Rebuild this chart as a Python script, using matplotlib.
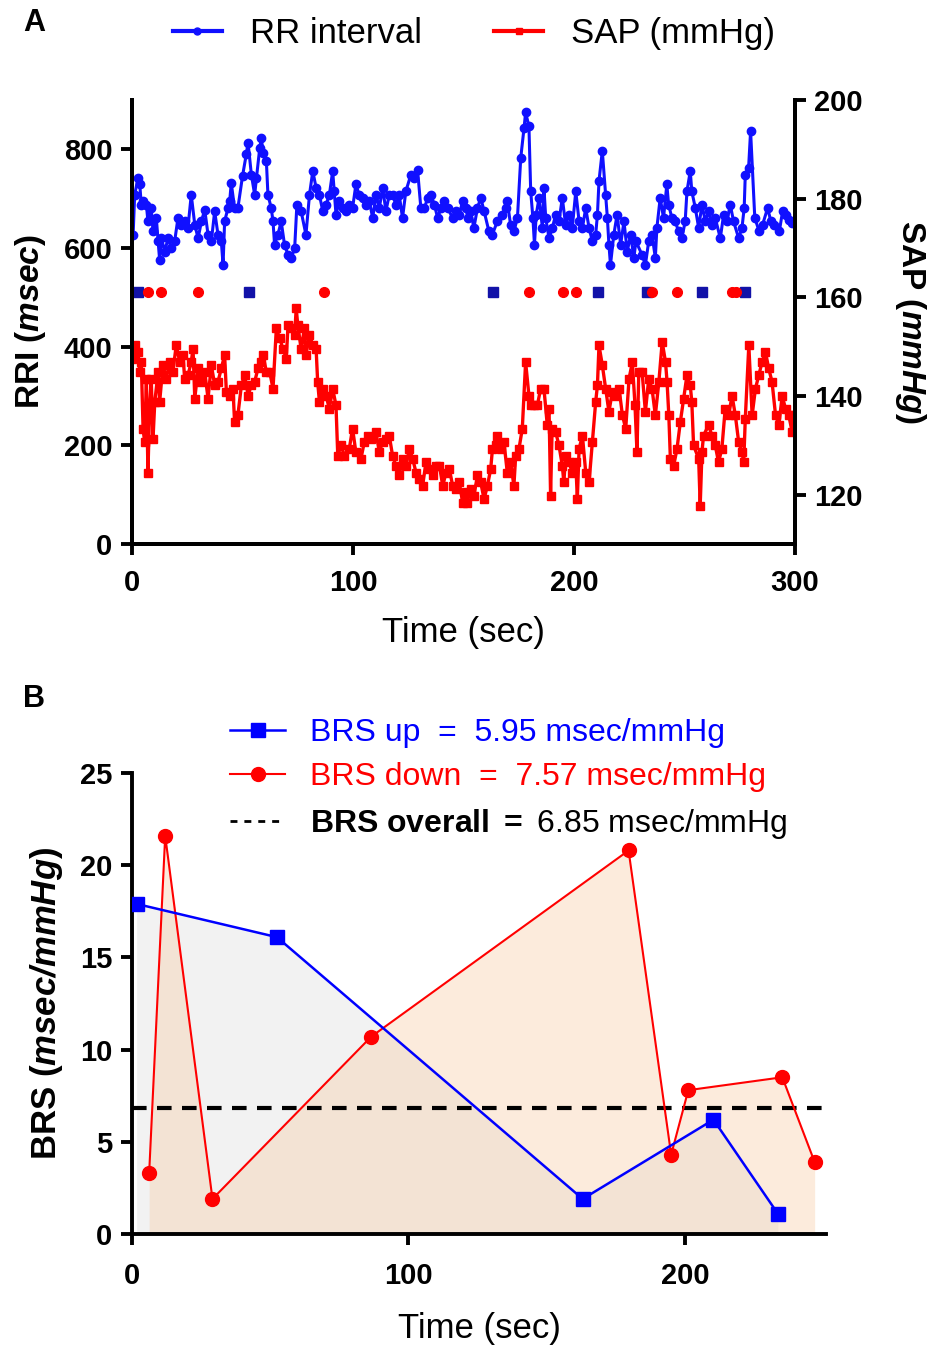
import matplotlib
matplotlib.use('Agg')
import matplotlib.pyplot as plt
from matplotlib.lines import Line2D

plt.rcParams['font.family'] = ['Liberation Sans', 'DejaVu Sans']
plt.rcParams['mathtext.fontset'] = 'custom'
plt.rcParams['mathtext.rm'] = 'Liberation Sans'
plt.rcParams['mathtext.it'] = 'Liberation Sans:italic'
plt.rcParams['mathtext.bf'] = 'Liberation Sans:bold'
plt.rcParams['mathtext.bfit'] = 'Liberation Sans:italic:bold'

# ---- panel A data: beat series (time in sec) ----
rri_t = [0.5, 1.2, 2.7, 3.5, 4.2, 5.0, 6.5, 7.2, 8.7, 9.5, 11.0, 11.8, 12.5, 13.3, 14.8, 16.3,
         17.8, 19.3, 20.8, 22.3, 23.8, 25.3, 26.8, 28.4, 29.9, 31.4, 32.9, 34.4, 35.9, 37.4,
         38.9, 40.4, 41.2, 41.9, 43.4, 44.2, 44.9, 46.4, 47.9, 50.0, 51.7, 52.5, 54.0, 55.5,
         56.3, 57.8, 58.5, 59.3, 60.8, 61.5, 63.0, 63.8, 64.5, 66.0, 67.5, 69.0, 70.6, 72.1,
         73.6, 74.6, 76.5, 78.7, 80.3, 81.8, 83.3, 84.8, 86.3, 87.8, 89.3, 90.8, 91.5, 92.3,
         93.8, 95.3, 96.8, 98.3, 99.8, 101.3, 102.8, 104.3, 105.9, 107.4, 108.9, 110.4, 111.9,
         113.4, 114.9, 116.4, 117.9, 119.4, 120.9, 122.4, 123.9, 126.2, 127.7, 129.2, 130.7,
         132.3, 133.8, 135.3, 136.8, 138.3, 139.8, 141.3, 142.8, 145.1, 146.6, 148.1, 149.6,
         151.0, 152.0, 153.2, 154.7, 156.3, 157.8, 159.3, 161.5, 163.0, 165.3, 167.5, 169.0,
         169.8, 171.3, 172.8, 174.4, 175.9, 177.4, 178.1, 179.6, 180.4, 181.4, 182.1, 182.9,
         184.2, 185.7, 186.4, 187.2, 188.7, 190.2, 191.7, 193.2, 194.7, 196.2, 197.7, 199.2,
         200.8, 202.3, 203.8, 205.3, 206.8, 208.3, 209.8, 210.6, 211.3, 212.8, 214.3, 215.1,
         215.8, 216.5, 218.0, 219.5, 221.1, 222.6, 224.1, 225.6, 227.1, 228.0, 230.8, 232.3,
         233.8, 235.3, 236.8, 237.5, 239.0, 240.5, 242.0, 242.8, 244.3, 245.8, 247.3, 248.8,
         250.3, 251.1, 252.6, 253.3, 254.9, 256.4, 257.9, 259.4, 260.9, 262.4, 263.9, 266.2,
         267.7, 269.2, 270.7, 272.2, 274.5, 276.0, 277.0, 277.5, 279.0, 279.9, 281.8, 283.8,
         285.3, 287.6, 289.1, 290.6, 292.9, 294.4, 295.9, 297.4, 298.8]
rri_v = [627, 708, 742, 729, 688, 695, 688, 654, 681, 634, 661, 614, 576, 620, 593, 620,
         600, 614, 661, 647, 654, 641, 708, 647, 620, 654, 678, 627, 614, 675,
         627, 614, 566, 654, 681, 695, 732, 681, 681, 746, 790, 814, 749, 708,
         742, 803, 824, 793, 776, 708, 681, 654, 607, 627, 654, 607, 586, 580,
         600, 688, 675, 627, 708, 756, 722, 708, 675, 688, 708, 756, 715, 668,
         695, 681, 675, 688, 681, 729, 708, 702, 688, 695, 661, 708, 681,
         722, 675, 708, 708, 688, 708, 661, 715, 749, 742, 759, 681,
         681, 702, 708, 688, 661, 681, 695, 681, 661, 675, 668, 695,
         681, 661, 675, 641, 681, 702, 675, 634, 627, 654, 668, 681,
         695, 647, 634, 661, 783, 844, 875, 847, 715, 661, 607, 668,
         702, 641, 722, 661, 620, 641, 668, 654, 702, 647, 668, 641,
         715, 654, 641, 681, 641, 614, 627, 668, 736, 797, 708, 661,
         607, 566, 627, 668, 607, 654, 593, 627, 580, 614, 586, 566,
         614, 627, 580, 641, 702, 661, 729, 688, 661, 654, 634, 620,
         654, 715, 756, 715, 681, 641, 688, 654, 675, 647, 661, 620,
         668, 654, 688, 654, 620, 641, 681, 749, 763, 837, 661, 634,
         647, 681, 654, 647, 634, 675, 668, 657, 651]

sap_t = [0.0, 1.5, 2.7, 3.5, 4.2, 5.0, 5.7, 6.5, 7.2, 8.0, 8.7, 9.5, 10.3, 11.8, 12.5, 14.0,
         15.5, 17.0, 18.5, 20.0, 21.6, 23.1, 23.8, 25.3, 26.8, 27.6, 28.4, 29.9, 31.4, 32.9,
         34.4, 35.9, 37.4, 38.9, 40.4, 41.9, 42.7, 44.2, 45.7, 46.4, 47.9, 49.5, 51.0, 52.5,
         54.0, 55.5, 57.0, 58.5, 59.3, 60.8, 62.3, 63.8, 65.3, 66.8, 68.3, 69.8, 70.6, 72.1,
         73.6, 74.3, 75.0, 76.5, 78.0, 78.7, 80.3, 81.8, 83.3, 84.0, 84.8, 86.3, 87.8, 89.3,
         90.8, 92.3, 93.1, 94.6, 96.1, 98.3, 99.8, 101.3, 103.6, 105.1, 106.6, 108.1, 110.4,
         111.9, 113.4, 114.9, 116.4, 117.9, 119.4, 120.9, 122.4, 124.0, 125.5, 127.0, 128.5,
         130.0, 131.5, 133.0, 134.5, 136.0, 137.6, 139.1, 140.6, 142.1, 143.6, 145.1, 146.6,
         148.1, 149.6, 151.1, 151.7, 153.2, 154.7, 156.3, 157.8, 159.3, 160.8, 162.3, 163.1,
         164.6, 165.3, 166.8, 168.3, 169.8, 171.3, 172.8, 173.6, 175.1, 176.6, 178.1, 179.6,
         180.4, 181.9, 183.4, 184.9, 186.4, 187.9, 188.7, 189.4, 190.1, 191.7, 193.2, 194.7,
         195.4, 196.2, 197.7, 199.2, 200.8, 201.5, 202.3, 203.8, 205.3, 206.8, 208.3, 209.8,
         210.6, 211.3, 212.8, 214.3, 215.8, 217.3, 218.8, 220.4, 221.9, 223.4, 224.9, 226.4,
         227.6, 228.5, 229.3, 230.8, 232.3, 233.8, 235.3, 236.8, 238.4, 239.9, 241.4, 242.1,
         242.9, 243.6, 245.1, 246.6, 248.1, 249.6, 251.1, 252.6, 253.3, 254.1, 256.4, 257.1,
         257.9, 258.6, 260.9, 262.4, 263.9, 265.4, 266.9, 268.4, 270.0, 271.5, 273.0, 274.5,
         276.0, 276.8, 277.5, 279.1, 280.6, 282.1, 283.6, 285.1, 286.6, 288.1, 289.6, 291.2,
         292.7, 294.2, 295.7, 297.2, 298.7, 299.4, 300.0]
sap_v = [147.6, 150.3, 149.0, 144.9, 146.9, 133.4, 130.7, 143.5, 124.5, 138.1, 143.5, 131.3, 138.8, 144.9, 138.8, 146.3,
         143.5, 146.9, 144.9, 150.3, 146.9, 148.3, 143.5, 144.2, 146.9, 149.6, 139.5, 145.6, 142.9, 144.9,
         139.5, 146.3, 142.2, 142.9, 145.6, 148.3, 140.8, 140.1, 141.5, 134.7, 136.1, 142.2, 144.2, 140.1,
         142.2, 142.9, 145.6, 146.9, 148.3, 144.9, 144.9, 141.5, 153.7, 151.7, 149.6, 147.6, 154.4, 153.7,
         152.4, 157.8, 154.4, 149.6, 153.7, 148.3, 152.4, 150.3, 149.6, 142.9, 138.8, 141.5, 140.1, 137.4,
         141.5, 138.1, 127.9, 130.0, 127.9, 129.3, 133.4, 128.6, 127.3, 130.7, 132.0, 131.3, 132.7,
         128.6, 130.7, 131.3, 132.0, 127.9, 125.9, 123.9, 127.3, 125.9, 129.3, 127.3, 124.5,
         123.2, 121.8, 126.6, 125.2, 123.9, 125.9, 125.9, 121.8, 124.5, 125.2, 121.8, 121.2,
         122.5, 118.4, 120.5, 118.4, 121.2, 119.8, 123.9, 122.5, 119.1, 121.8, 125.2, 129.3,
         130.0, 132.0, 129.3, 130.7, 124.5, 126.6, 121.8, 127.9, 129.3, 133.4, 146.9, 140.1,
         138.1, 138.1, 138.1, 141.5, 141.5, 134.1, 137.4, 119.8, 133.4, 132.7, 130.0, 125.9,
         122.5, 127.9, 126.6, 124.5, 126.6, 119.1, 129.3, 132.0, 124.5, 122.5, 130.7, 138.8,
         142.2, 150.3, 146.3, 141.5, 136.8, 140.8, 140.1, 141.5, 136.1, 133.4, 143.5, 146.9,
         138.1, 128.6, 144.9, 144.9, 136.8, 143.5, 141.5, 136.1, 142.9, 151.0, 146.9, 142.9,
         136.1, 127.3, 125.9, 129.3, 134.7, 139.5, 144.2, 142.2, 138.8, 130.0, 127.3, 117.8,
         128.6, 132.0, 134.1, 132.0, 130.0, 126.6, 129.3, 137.4, 136.1, 140.1, 136.1, 130.7,
         128.6, 126.6, 135.4, 150.3, 136.1, 141.5, 144.2, 146.9, 149.0, 145.6, 142.9, 136.1,
         134.1, 140.1, 137.4, 136.1, 132.7, 136.1, 134.7]

# times of detected up / down sequences (marker row in panel A)
seq_up_t = [2.8, 53.1, 163.2, 210.7, 232.9, 257.8, 277.4]
seq_down_t = [7.4, 13.1, 30.0, 87.0, 179.8, 195.2, 200.9, 235.4, 246.4, 271.4, 273.3]
seq_row_level = 510

# ---- panel B data: BRS per sequence ----
brs_up_t = [1.7, 52.4, 163.0, 210.3, 233.6]
brs_up_v = [17.9, 16.1, 1.9, 6.2, 1.1]
brs_down_t = [6.2, 12.0, 29.1, 86.5, 179.6, 195.0, 201.2, 235.2, 246.9]
brs_down_v = [3.3, 21.6, 1.9, 10.7, 20.8, 4.3, 7.8, 8.5, 3.9]
brs_overall = 6.85

BLUE = '#1010ff'
RED = '#ff0000'

fig = plt.figure(figsize=(9.33, 13.47), dpi=100)

# ================= panel A =================
ax1 = fig.add_axes([0.1415, 0.5961, 0.7106, 0.3296])
ax2 = ax1.twinx()

ax1.plot(rri_t, rri_v, '-o', color=BLUE, lw=2.2, ms=6, zorder=3)
ax1.plot(seq_up_t, [seq_row_level] * len(seq_up_t), 's', color='#1212a8', ms=7, ls='none')
ax1.plot(seq_down_t, [seq_row_level] * len(seq_down_t), 'o', color=RED, ms=7, ls='none')
ax2.plot(sap_t, sap_v, '-s', color=RED, lw=2.4, ms=6)

ax1.set_xlim(0, 300)
ax1.set_ylim(0, 900)
ax2.set_ylim(110, 200)
ax1.set_xticks([0, 100, 200, 300])
ax1.set_yticks([0, 200, 400, 600, 800])
ax2.set_yticks([120, 140, 160, 180, 200])

for a in (ax1, ax2):
    a.spines['top'].set_visible(False)
    for s in a.spines.values():
        s.set_linewidth(2.8)
    a.tick_params(width=2.8, length=8, labelsize=21, pad=6)
    a.tick_params(axis='x', pad=10)
    for lab in a.get_xticklabels() + a.get_yticklabels():
        lab.set_fontweight('bold')

ax1.set_xlabel('Time (sec)', fontsize=25, labelpad=14)
ax1.set_ylabel(r'RRI ($\mathbfit{msec}$)', fontsize=24, fontweight='bold')
ax1.yaxis.set_label_coords(-0.127, 0.5)
ax2.set_ylabel(r'SAP ($\mathbfit{mmHg}$)', fontsize=24, fontweight='bold', rotation=270)
ax2.yaxis.set_label_coords(1.2, 0.5)

h1 = Line2D([], [], color=BLUE, lw=3, marker='o', ms=5)
h2 = Line2D([], [], color=RED, lw=3, marker='s', ms=5)
fig.legend([h1, h2], ['RR interval', 'SAP (mmHg)'], loc='center',
           bbox_to_anchor=(0.508, 0.975), ncol=2, frameon=False, fontsize=25,
           handlelength=1.4, handletextpad=0.8, columnspacing=2.1)

fig.text(0.025, 0.983, 'A', fontsize=22, fontweight='bold', va='center')
fig.text(0.025, 0.481, 'B', fontsize=22, fontweight='bold', va='center')

# ================= panel B =================
ax3 = fig.add_axes([0.1415, 0.0839, 0.7438, 0.3422])
ax3.fill_between(brs_up_t, brs_up_v, 0, color='#f2f2f2', lw=0, zorder=1)
ax3.fill_between(brs_down_t, brs_down_v, 0, color='#f7c79c', alpha=0.35, lw=0, zorder=2)
ax3.axhline(brs_overall, color='black', lw=3, ls=(0, (3.5, 2.5)), zorder=3)
ax3.plot(brs_up_t, brs_up_v, '-s', color='#0000ff', lw=1.8, ms=10, zorder=5)
ax3.plot(brs_down_t, brs_down_v, '-o', color=RED, lw=1.5, ms=10, zorder=4)

ax3.set_xlim(0, 251)
ax3.set_ylim(0, 25)
ax3.set_xticks([0, 100, 200])
ax3.set_yticks([0, 5, 10, 15, 20, 25])
ax3.spines['top'].set_visible(False)
ax3.spines['right'].set_visible(False)
for s in ax3.spines.values():
    s.set_linewidth(2.8)
ax3.tick_params(width=2.8, length=8, labelsize=21, pad=6)
ax3.tick_params(axis='x', pad=12)
for lab in ax3.get_xticklabels() + ax3.get_yticklabels():
    lab.set_fontweight('bold')
ax3.set_xlabel('Time (sec)', fontsize=25, labelpad=16)
ax3.set_ylabel(r'BRS ($\mathbfit{msec/mmHg}$)', fontsize=25, fontweight='bold')
ax3.yaxis.set_label_coords(-0.097, 0.5)

h_up = Line2D([], [], color='#0000ff', lw=1.8, marker='s', ms=10)
h_dn = Line2D([], [], color=RED, lw=1.5, marker='o', ms=10)
h_ov = Line2D([], [], color='black', lw=2, ls=(0, (2.5, 2.5)))
leg = fig.legend([h_up, h_dn, h_ov],
                 ['BRS up  =  5.95 msec/mmHg',
                  'BRS down  =  7.57 msec/mmHg',
                  r'$\mathbf{BRS\ overall\ =}$ 6.85 msec/mmHg'],
                 loc='upper left', bbox_to_anchor=(0.247, 0.467), frameon=False,
                 fontsize=23, handlelength=1.7, handletextpad=0.8, labelspacing=0.45,
                 borderpad=0, borderaxespad=0)
for txt, c in zip(leg.get_texts(), ['#0000ff', RED, 'black']):
    txt.set_color(c)

fig.savefig('out.png', dpi=100)
